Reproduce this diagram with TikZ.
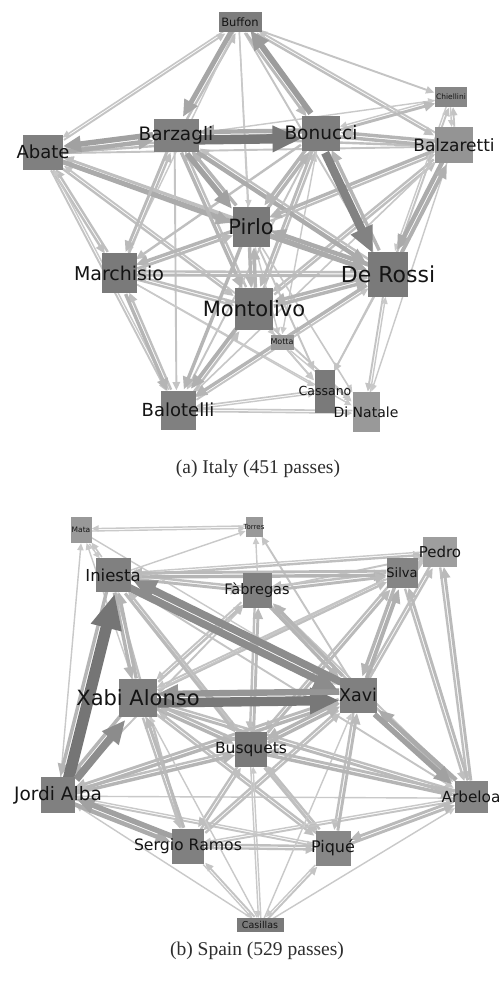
\documentclass[tikz,border=0pt]{standalone}
\usepackage{fontspec}
\setmainfont{DejaVu Sans}
\newfontfamily\capfont{Liberation Serif}
\usetikzlibrary{arrows.meta}
\pgfdeclarelayer{edges}
\pgfsetlayers{edges,main}

\tikzset{
  box/.style={rectangle, inner sep=0pt, draw=none},
  lbl/.style={inner sep=0pt, text=black!92},
  pass/.style={line width=#1pt, line cap=butt,
    -{Triangle[length=3pt 2.8, width=3pt 2.3]}},
  caption/.style={font=\capfont\fontsize{19.5}{21}\selectfont, text=black!82}
}

% box: name, x, y, width, height, fill
\newcommand\pbox[6]{\node[box, minimum width=#4pt, minimum height=#5pt, fill=#6] (#1) at (#2,#3) {};}
% label: name, font size, text
\newcommand\plabel[3]{\node[lbl, font=\fontsize{#2}{#2}\selectfont] (#1-l) at (#1) {#3};}

\newdimen\pax \newdimen\pay \newdimen\pbx \newdimen\pby
% passes between players, thin ones first so heavy ones stay on top;
% each pass is moved a little to its own right so that the two
% directions of a pair run side by side
\newcommand\drawpasses[2]{%
  \foreach \lo/\hi in {0/2.5, 2.5/5, 5/99}{%
    \foreach \a/\b/\w in #1 {%
      \pgfmathparse{and(\w>=\lo, \w<\hi)}%
      \ifdim\pgfmathresult pt>0.5pt
        \pgfmathsetmacro\sh{min(54,17+4*\w)}%
        \pgfmathsetmacro\lw{\w+0.4}%
        \pgfextractx{\pax}{\pgfpointanchor{#2\a}{center}}%
        \pgfextracty{\pay}{\pgfpointanchor{#2\a}{center}}%
        \pgfextractx{\pbx}{\pgfpointanchor{#2\b}{center}}%
        \pgfextracty{\pby}{\pgfpointanchor{#2\b}{center}}%
        \pgfmathsetmacro\ang{atan2(\pby-\pay,\pbx-\pax)-90}%
        \pgfmathsetmacro\off{0.5*\lw+0.5}%
        \draw[pass=\lw, draw=black!\sh, fill=black!\sh,
              transform canvas={shift={(\ang:\off pt)}}] (#2\a) -- (#2\b);
      \fi
    }%
  }%
}

\def\italypasses{Bu/Ab/1.2, Ab/Bu/1.5, Bu/Bz/4.5, Bz/Bu/2, Bu/Bo/2.5, Bo/Bu/5.5, Bu/Ch/1.5, Bu/Ba/2, Ba/Bu/1.5, Bu/Pi/1, Bu/DR/1.5, Bu/Mo/1, Bu/Ma/1,
Ab/Bz/4, Bz/Ab/5, Ab/Bo/2, Bo/Ab/2, Ab/Pi/4, Pi/Ab/2, Ab/DR/4, DR/Ab/2, Ab/Ma/2, Ma/Ab/2, Ab/Mo/2, Mo/Ab/1.5, Ab/Bl/1.5, Bl/Ab/1, Ab/Ba/1.5,
Bz/Bo/9, Bo/Bz/4, Bz/Pi/5, Pi/Bz/3, Bz/DR/4, DR/Bz/2, Bz/Ma/2.5, Ma/Bz/2, Bz/Mo/3, Mo/Bz/2, Bz/Ba/2, Bz/Bl/1.5, Bz/Ch/1,
Bo/DR/8, DR/Bo/3, Bo/Pi/3, Pi/Bo/3, Bo/Ba/3, Ba/Bo/3, Bo/Ch/2.5, Ch/Bo/1, Bo/Mo/2.5, Mo/Bo/2, Bo/Ma/2, Bo/Bl/1.5, Bo/Mt/1,
Ba/DR/4, DR/Ba/3.5, Ba/Pi/3, Pi/Ba/2, Ba/Mo/2, Mo/Ba/2, Ba/Ch/1.5, Ch/Ba/1, Ba/Bl/1.2, Ba/DN/1, Ba/Ca/1,
Pi/DR/4, DR/Pi/4, Pi/Mo/3, Mo/Pi/3, Pi/Ma/3, Ma/Pi/2.5, Pi/Bl/3, Pi/Ca/1.5, Pi/DN/1.2, Pi/Mt/1,
Ma/DR/2.5, DR/Ma/2, Ma/Mo/2, Mo/Ma/2, Ma/Bl/3, Bl/Ma/2, Ma/Ca/1, Ma/DN/1,
DR/Mo/3, Mo/DR/3, DR/Bl/3, Bl/DR/1.5, DR/Ca/1.5, DR/DN/1.5, DN/DR/1, DR/Mt/1.2, DR/Ch/1.5, Ch/DR/1,
Mo/Bl/3.5, Bl/Mo/2, Mo/Ca/1.5, Mo/DN/1.5, Mo/Mt/1, Mt/Bl/1.2, Mt/DN/1, Mt/Ca/1, Ca/Bl/1.2, Bl/Ca/1, DN/Bl/1.2, Bl/DN/1.2}

\def\spainpasses{JA/In/11, In/JA/3, JA/XA/7, XA/JA/3, JA/SR/4, SR/JA/5, JA/Bs/3, Bs/JA/2, JA/Xv/3, Xv/JA/2.5, JA/Mt/1, JA/Fa/1.5, JA/Pq/1.5, Pq/JA/1, JA/Ar/1,
XA/Xv/9, Xv/XA/6, XA/In/3, In/XA/3, XA/Bs/3, Bs/XA/2.5, XA/Fa/2, Fa/XA/1.5, XA/Si/2, Si/XA/1.5, XA/Pe/1.2, XA/SR/2, SR/XA/2.5, XA/Pq/2, Pq/XA/2, XA/Ar/2.5, Ar/XA/2,
In/Xv/7, Xv/In/7, In/Si/3, Si/In/2.5, In/Pe/2, Pe/In/1, In/Fa/2.5, Fa/In/2, In/Bs/2.5, Bs/In/2, In/Mt/1.2, Mt/In/1, In/To/1, In/SR/2, In/Pq/1.5, In/Ar/1.5,
Xv/Si/3.5, Si/Xv/3, Xv/Pe/2, Pe/Xv/2, Xv/Fa/3, Fa/Xv/3, Xv/Bs/3, Bs/Xv/3, Xv/Ar/5, Ar/Xv/4, Xv/Pq/2, Pq/Xv/2.5, Xv/SR/2, SR/Xv/2, Xv/To/1.5,
Fa/Si/2.5, Si/Fa/2, Fa/Pe/1.5, Fa/Bs/2, Bs/Fa/2.5, Fa/Ar/2, Ar/Fa/1.5, Fa/To/1,
Si/Pe/1.5, Pe/Si/1.5, Si/Ar/2, Ar/Si/2.5, Si/Bs/2, Bs/Si/2.5, Pe/Ar/2, Ar/Pe/2.5,
Bs/Ar/3, Ar/Bs/2.5, Bs/SR/2, SR/Bs/2, Bs/Pq/2, Pq/Bs/2, Bs/Cs/1, Cs/Bs/1,
SR/Pq/2, Pq/SR/2, SR/Ar/1.5, Ar/SR/1, Pq/Ar/2.5, Ar/Pq/2.5,
Cs/SR/1.5, SR/Cs/1, Cs/Pq/1.5, Pq/Cs/1, Cs/JA/1, Cs/Ar/1, Cs/Xv/1, Cs/XA/1,
Mt/To/1, To/Mt/1, Mt/Xv/1, SR/Mt/1}

\begin{document}
\begin{tikzpicture}[x=1pt, y=-1pt]
\useasboundingbox (0,0) rectangle (503,985);

% ---------- Italy ----------
\pbox{iBu}{240}{22}{43}{20}{black!51}
\pbox{iCh}{451}{97}{32}{20}{black!47}
\pbox{iBz}{176}{135}{45}{33}{black!50}
\pbox{iBo}{321}{133}{38}{35}{black!51}
\pbox{iAb}{43}{152}{40}{35}{black!50}
\pbox{iBa}{454}{145}{38}{36}{black!42}
\pbox{iPi}{251}{227}{37}{40}{black!52}
\pbox{iMa}{119}{273}{35}{40}{black!52}
\pbox{iDR}{388}{274}{40}{45}{black!52}
\pbox{iMo}{254}{309}{38}{42}{black!52}
\pbox{iMt}{282}{342}{23}{15}{black!40}
\pbox{iCa}{325}{391}{20}{43}{black!52}
\pbox{iDN}{366}{412}{27}{40}{black!40}
\pbox{iBl}{178}{410}{35}{39}{black!50}

\plabel{iBu}{11.5}{Buffon}
\plabel{iCh}{7.5}{Chiellini}
\plabel{iBz}{18.5}{Barzagli}
\plabel{iBo}{18.5}{Bonucci}
\plabel{iAb}{18}{Abate}
\plabel{iBa}{17}{Balzaretti}
\plabel{iPi}{21}{Pirlo}
\plabel{iMa}{19}{Marchisio}
\plabel{iDR}{22}{De Rossi}
\plabel{iMo}{21}{Montolivo}
\plabel{iMt}{8}{Motta}
\plabel{iCa}{12.5}{Cassano}
\plabel{iDN}{14}{Di Natale}
\plabel{iBl}{18}{Balotelli}

\node[caption] (capa) at (258,469) {(a) Italy (451 passes)};

% ---------- Spain ----------
\pbox{sMt}{81}{530}{21}{26}{black!40}
\pbox{sTo}{254}{527}{17}{20}{black!40}
\pbox{sPe}{440}{552}{34}{30}{black!38}
\pbox{sSi}{402}{573}{31}{30}{black!48}
\pbox{sIn}{113}{575}{35}{34}{black!50}
\pbox{sFa}{257}{590}{29}{35}{black!50}
\pbox{sXA}{138}{698}{38}{38}{black!50}
\pbox{sXv}{358}{695}{37}{35}{black!50}
\pbox{sBs}{251}{749}{32}{35}{black!52}
\pbox{sJA}{58}{795}{34}{36}{black!50}
\pbox{sAr}{471}{797}{33}{32}{black!48}
\pbox{sSR}{188}{846}{32}{35}{black!50}
\pbox{sPq}{333}{848}{35}{35}{black!47}
\pbox{sCs}{260}{925}{47}{14}{black!52}

\plabel{sMt}{7.5}{Mata}
\plabel{sTo}{7}{Torres}
\plabel{sPe}{15}{Pedro}
\plabel{sSi}{13}{Silva}
\plabel{sIn}{16.5}{Iniesta}
\plabel{sFa}{14.5}{Fàbregas}
\plabel{sXA}{21}{Xabi Alonso}
\plabel{sXv}{17.5}{Xavi}
\plabel{sBs}{15.5}{Busquets}
\plabel{sJA}{18.5}{Jordi Alba}
\plabel{sAr}{15.3}{Arbeloa}
\plabel{sSR}{15.7}{Sergio Ramos}
\plabel{sPq}{16}{Piqué}
\plabel{sCs}{9.5}{Casillas}

\node[caption] (capb) at (257,951) {(b) Spain (529 passes)};

% ---------- pass arrows, beneath the boxes ----------
\begin{pgfonlayer}{edges}
  \fill[white] (0,0) rectangle (503,985);
  \drawpasses{\italypasses}{i}
  \drawpasses{\spainpasses}{s}
\end{pgfonlayer}
\end{tikzpicture}
\end{document}
